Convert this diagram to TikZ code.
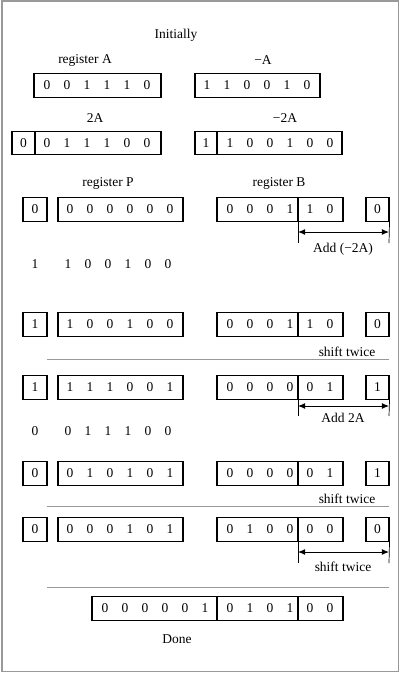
\documentclass[tikz,border=0pt]{standalone}
\usepackage{fontspec}
\setmainfont{Liberation Serif}
\usetikzlibrary{arrows.meta}
\tikzset{regbox/.style={
  rectangle,
  draw,line width=0.9pt,
  inner sep=0pt,minimum height=23.5*0.03cm,minimum width=#1*0.03cm}}
\tikzset{bit/.style={inner sep=0pt}}
\tikzset{divider/.style={line width=0.9pt}}
\tikzset{sepline/.style={draw=gray!80,line width=0.7pt}}
\tikzset{pageframe/.style={draw=gray!80,line width=1.2pt,inner sep=0pt,
  minimum width=396.5*0.03cm,minimum height=670.5*0.03cm}}
\tikzset{>={Latex[length=6pt,width=5pt]}}

\begin{document}
\begin{tikzpicture}[x={(0.03cm,0cm)},y={(0cm,-0.03cm)},font=\fontsize{11.5}{13}\selectfont]
  \useasboundingbox (0,0) rectangle (400,673);
  \node[pageframe] (frame) at (200.25,336.25) {};
  % initial values
  \node (init) at (176,35) {Initially};
  \node (labA) at (85,60) {register A};
  \node (labnA) at (263,60) {−A};
  \node (lab2A) at (95,118) {2A};
  \node (labn2A) at (285,118) {−2A};
  \node[regbox=127] (A) at (97.5,85.5) {};
  \node[regbox=125] (nA) at (257.5,85.5) {};
  \node[regbox=23] (s2A) at (23.5,143) {0};
  \node[regbox=126] (m2A) at (98,143) {};
  \node[regbox=22] (sn2A) at (206,143) {1};
  \node[regbox=125] (mn2A) at (279.5,143) {};
  \foreach \n/\x/\y/\l in {A/27/85.5/{0,0,1,1,1,0}, nA/187/85.5/{1,1,0,0,1,0},
      m2A/27/143/{0,1,1,1,0,0}, mn2A/210/143/{1,0,0,1,0,0}}
    \foreach \d [count=\i] in \l
      \node[bit] (\n-\i) at (\x+20*\i,\y) {\d};
  % registers P and B
  \node (labP) at (108,183) {register P};
  \node (labB) at (279,183) {register B};
  \foreach \r/\y/\e/\p/\b/\q in {
      2/209.5/0/{0,0,0,0,0,0}/{0,0,0,1,1,0}/0,
      4/324.5/1/{1,0,0,1,0,0}/{0,0,0,1,1,0}/0,
      5/387.5/1/{1,1,1,0,0,1}/{0,0,0,0,0,1}/1,
      7/473.5/0/{0,1,0,1,0,1}/{0,0,0,0,0,1}/1,
      8/529.5/0/{0,0,0,1,0,1}/{0,1,0,0,0,0}/0} {
    \node[regbox=24] (e\r) at (35,\y) {\e};
    \node[regbox=125] (p\r) at (120.5,\y) {};
    \node[regbox=126] (b\r) at (280,\y) {};
    \node[regbox=23] (q\r) at (377.5,\y) {\q};
    \coordinate (d\r) at (298,\y);
    \draw[divider] (d\r |- b\r.north) -- (d\r |- b\r.south);
    \foreach \d [count=\i] in \p
      \node[bit] (p\r-\i) at (50+20*\i,\y) {\d};
    \foreach \d [count=\i] in \b
      \node[bit] (b\r-\i) at (210+20*\i,\y) {\d};
  }
  % sums before shifting
  \foreach \r/\y/\e/\p in {3/264/1/{1,0,0,1,0,0}, 6/431/0/{0,1,1,1,0,0}} {
    \node[bit] (e\r) at (35,\y) {\e};
    \foreach \d [count=\i] in \p
      \node[bit] (p\r-\i) at (48+20*\i,\y) {\d};
  }
  % steps
  \foreach \r/\a/\t/\ly/\s in {2/232/243/249/{Add (−2A)}, 5/406/416/418/{Add 2A},
      8/552/563/567/{shift twice}} {
    \coordinate (al\r) at (298,\a);
    \coordinate (ar\r) at (389,\a);
    \draw[line width=0.6pt] (d\r |- b\r.south) -- (298,\t);
    \draw[line width=0.6pt] (q\r.south east) -- (389,\t);
    \draw[<->,line width=0.8pt] (al\r) -- (ar\r);
    \node (step\r) at (343,\ly) {\s};
  }
  \node (shift1) at (347,352) {shift twice};
  \node (shift2) at (347,499) {shift twice};
  \foreach \k/\y in {1/359, 2/506, 3/587} {
    \coordinate (sl\k) at (47,\y);
    \coordinate (sr\k) at (389,\y);
    \draw[sepline] (sl\k) -- (sr\k);
  }
  % result
  \node[regbox=251] (res) at (217.5,608.5) {};
  \foreach \x [count=\k] in {217,298} {
    \coordinate (rd\k) at (\x,608.5);
    \draw[divider] (rd\k |- res.north) -- (rd\k |- res.south);
  }
  \foreach \d [count=\i] in {0,0,0,0,0,1,0,1,0,1,0,0}
    \node[bit] (res-\i) at ({85+20*\i+5*(\i>6)},608.5) {\d};
  \node (done) at (177,639) {Done};
\end{tikzpicture}
\end{document}
